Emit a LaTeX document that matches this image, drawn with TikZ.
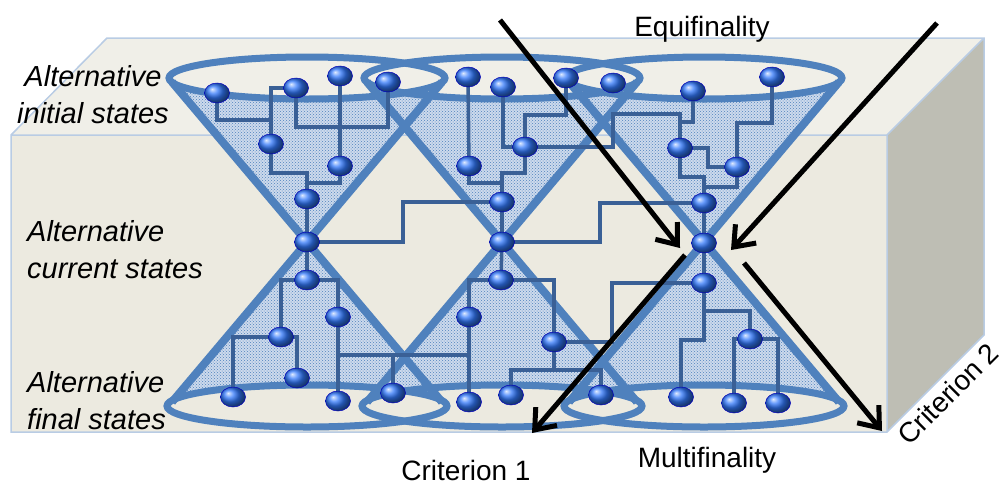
\documentclass[tikz,border=0pt]{standalone}
\usepackage{fontspec}
\setmainfont{Liberation Sans}
\usetikzlibrary{arrows.meta,shapes.geometric,patterns}

\definecolor{frontface}{RGB}{236,234,224}
\definecolor{topface}{RGB}{240,239,232}
\definecolor{sideface}{RGB}{190,190,180}
\definecolor{boxedge}{RGB}{185,204,228}
\definecolor{coneedge}{RGB}{79,129,189}
\definecolor{conefill}{RGB}{205,218,236}
\definecolor{linkblue}{RGB}{58,96,150}
\definecolor{statblue}{RGB}{50,120,250}

\pgfdeclarelayer{back}
\pgfdeclarelayer{links}
\pgfsetlayers{back,links,main}

\tikzset{
  state/.style={ellipse, minimum width=25pt, minimum height=20pt, inner sep=0pt,
    shading=ball, ball color=statblue, draw=blue!75!black, line width=0.5pt},
  link/.style={linkblue, line width=3.5pt},
  coneline/.style={coneedge, line width=8pt},
  rim/.style={coneedge, line width=7pt},
  flow/.style={line width=5pt, -{Straight Barb[length=18pt,width=28pt]}},
  lbl/.style={font=\fontsize{28}{36}\selectfont, inner sep=0pt},
  side/.style={font=\fontsize{29}{37}\selectfont\itshape, inner sep=0pt},
}

\begin{document}
\begin{tikzpicture}[x=1pt, y=-1pt]
  \useasboundingbox (0,0) rectangle (1006,485);
  %\draw[lightgray] (0,0) grid[step=50] (1006,485);

  \begin{pgfonlayer}{back}
    % the box
    \fill[topface] (11,135) -- (107,38) -- (984,38) -- (887,135) -- cycle;
    \fill[sideface] (887,135) -- (984,38) -- (984,335) -- (887,432) -- cycle;
    \fill[frontface] (11,135) rectangle (887,432);
    \draw[boxedge, line width=1.5pt] (11,135) -- (107,38) -- (984,38) -- (984,335)
      -- (887,432) -- (11,432) -- cycle (11,135) -- (887,135) -- (984,38)
      (887,135) -- (887,432);
    % the three hourglasses
    \foreach \cx in {307,502,704} {
      \fill[conefill] (\cx-135,82) -- (\cx+135,82) -- (\cx,242) -- cycle;
      \fill[conefill] (\cx,242) -- (\cx+135,402) -- (\cx-135,402) -- cycle;
      \fill[pattern=crosshatch dots, pattern color=coneedge]
        (\cx-135,82) -- (\cx+135,82) -- (\cx,242) -- (\cx+135,402) -- (\cx-135,402) -- (\cx,242) -- cycle;
    }
    \foreach \cx in {307,502,704} {
      \fill[topface] (\cx,78) ellipse[x radius=138, y radius=21];
      \fill[frontface] (\cx,406) ellipse[x radius=140, y radius=21];
    }
    \foreach \cx in {307,502,704} {
      \draw[coneline] (\cx-135,82) -- (\cx+135,402) (\cx+135,82) -- (\cx-135,402);
      \draw[rim] (\cx,78) ellipse[x radius=138, y radius=21];
      \draw[rim] (\cx,406) ellipse[x radius=140, y radius=21];
    }
  \end{pgfonlayer}

  % initial and upper states
  \node[state] (a1) at (217,93) {};
  \node[state] (a2) at (296,88) {};
  \node[state] (a3) at (340,76) {};
  \node[state] (a4) at (388,82) {};
  \node[state] (a5) at (271,144) {};
  \node[state] (a6) at (340,166) {};
  \node[state] (a7) at (307,199) {};
  \node[state] (b1) at (468,77) {};
  \node[state] (b2) at (503,87) {};
  \node[state] (b3) at (566,78) {};
  \node[state] (b4) at (613,83) {};
  \node[state] (b5) at (469,166) {};
  \node[state] (b6) at (525,147) {};
  \node[state] (b7) at (502,202) {};
  \node[state] (c1) at (693,91) {};
  \node[state] (c2) at (772,77) {};
  \node[state] (c3) at (680,148) {};
  \node[state] (c4) at (737,167) {};
  \node[state] (c5) at (704,203) {};
  % current states
  \node[state] (w1) at (307,242) {};
  \node[state] (w2) at (502,242) {};
  \node[state] (w3) at (704,243) {};
  % lower and final states
  \node[state] (d1) at (307,280) {};
  \node[state] (d2) at (338,317) {};
  \node[state] (d3) at (281,337) {};
  \node[state] (d4) at (297,378) {};
  \node[state] (d5) at (233,397) {};
  \node[state] (d6) at (338,401) {};
  \node[state] (d7) at (393,393) {};
  \node[state] (e1) at (501,280) {};
  \node[state] (e2) at (469,317) {};
  \node[state] (e3) at (554,342) {};
  \node[state] (e4) at (511,395) {};
  \node[state] (e5) at (469,402) {};
  \node[state] (e6) at (601,395) {};
  \node[state] (f1) at (704,283) {};
  \node[state] (f2) at (750,339) {};
  \node[state] (f3) at (681,397) {};
  \node[state] (f4) at (734,403) {};
  \node[state] (f5) at (778,403) {};
  \coordinate (j1) at (393,355);
  \coordinate (j2) at (554,370);

  \begin{pgfonlayer}{links}
    \draw[link] (a1.center) -- ++(0,27) -| (a5.center);
    \draw[link] (a2.center) -| (a5.center) -- ++(0,29) -| (a7.center);
    \draw[link] (a2.center) -- ++(0,39) -| (a4.center);
    \draw[link] (a3.center) -- (a6.center);
    \draw[link] (a6.center) -- ++(0,17) -| (a7.center);
    \draw[link] (a7.center) -- (w1.center);
    \draw[link] (w1.center) -- ++(96,0) |- (b7.center);
    \draw[link] (b1.center) -- (b5.center);
    \draw[link] (b5.center) -- ++(0,17) -| (b7.center);
    \draw[link] (b2.center) |- (b6.center);
    \draw[link] (b3.center) -- ++(0,37) -| (b6.center);
    \draw[link] (b6.center) -- ++(0,26) -| (b7.center);
    \draw[link] (b6.center) -- ++(88,0) -- ++(0,-33) -| (c3.center);
    \draw[link] (b7.center) -- (w2.center);
    \draw[link] (w2.center) -- ++(98,0) |- (c5.center);
    \draw[link] (c1.center) -- ++(0,31) -| (c3.center);
    \draw[link] (c3.center) -- ++(0,29) -| (c5.center);
    \draw[link] (c3.center) -- ++(28,0) |- (c4.center);
    \draw[link] (c2.center) -- ++(0,46) -| (c4.center);
    \draw[link] (c4.center) -- ++(0,20) -| (c5.center);
    \draw[link] (c5.center) -- (w3.center);
    \draw[link] (w1.center) -- (d1.center);
    \draw[link] (d3.center) |- (d1.center) -| (d2.center);
    \draw[link] (d5.center) |- (d3.center) -| (d4.center);
    \draw[link] (d2.center) -- (d6.center);
    \draw[link] (d2.center) |- (j1) -| (d7.center);
    \draw[link] (j1) -| (e2.center);
    \draw[link] (w2.center) -- (e1.center);
    \draw[link] (e2.center) |- (e1.center) -| (e3.center);
    \draw[link] (e2.center) -- (e5.center);
    \draw[link] (e3.center) -- (j2);
    \draw[link] (e4.center) |- (j2) -| (e6.center);
    \draw[link] (e3.center) -- ++(58,0) |- (f1.center);
    \draw[link] (w3.center) -- (f1.center);
    \draw[link] (f1.center) -- ++(0,57) -| (f3.center);
    \draw[link] (f1.center) -- ++(0,28) -| (f2.center);
    \draw[link] (f4.center) |- (f2.center) -| (f5.center);
  \end{pgfonlayer}

  % equifinality and multifinality
  \coordinate (eqA) at (500,20);
  \coordinate (eqAtip) at (680,248);
  \coordinate (eqB) at (937,23);
  \coordinate (eqBtip) at (731,250);
  \coordinate (mfA) at (685,255);
  \coordinate (mfAtip) at (532,433);
  \coordinate (mfB) at (744,263);
  \coordinate (mfBtip) at (882,431);
  \draw[flow] (eqA) -- (eqAtip);
  \draw[flow] (eqB) -- (eqBtip);
  \draw[flow] (mfA) -- (mfAtip);
  \draw[flow] (mfB) -- (mfBtip);

  \node[side, align=center] (initlbl) at (93,95) {Alternative\\initial states};
  \node[side, align=left, anchor=west] (currlbl) at (27,250) {Alternative\\current states};
  \node[side, align=left, anchor=west] (finallbl) at (27,401) {Alternative\\final states};
  \node[lbl, anchor=base] (equi) at (702,36) {Equifinality};
  \node[lbl, anchor=base] (multi) at (707,467) {Multifinality};
  \node[lbl, anchor=base] (crit1) at (466,480) {Criterion 1};
  \node[lbl, rotate=45] (crit2) at (948,394) {Criterion 2};
\end{tikzpicture}
\end{document}
